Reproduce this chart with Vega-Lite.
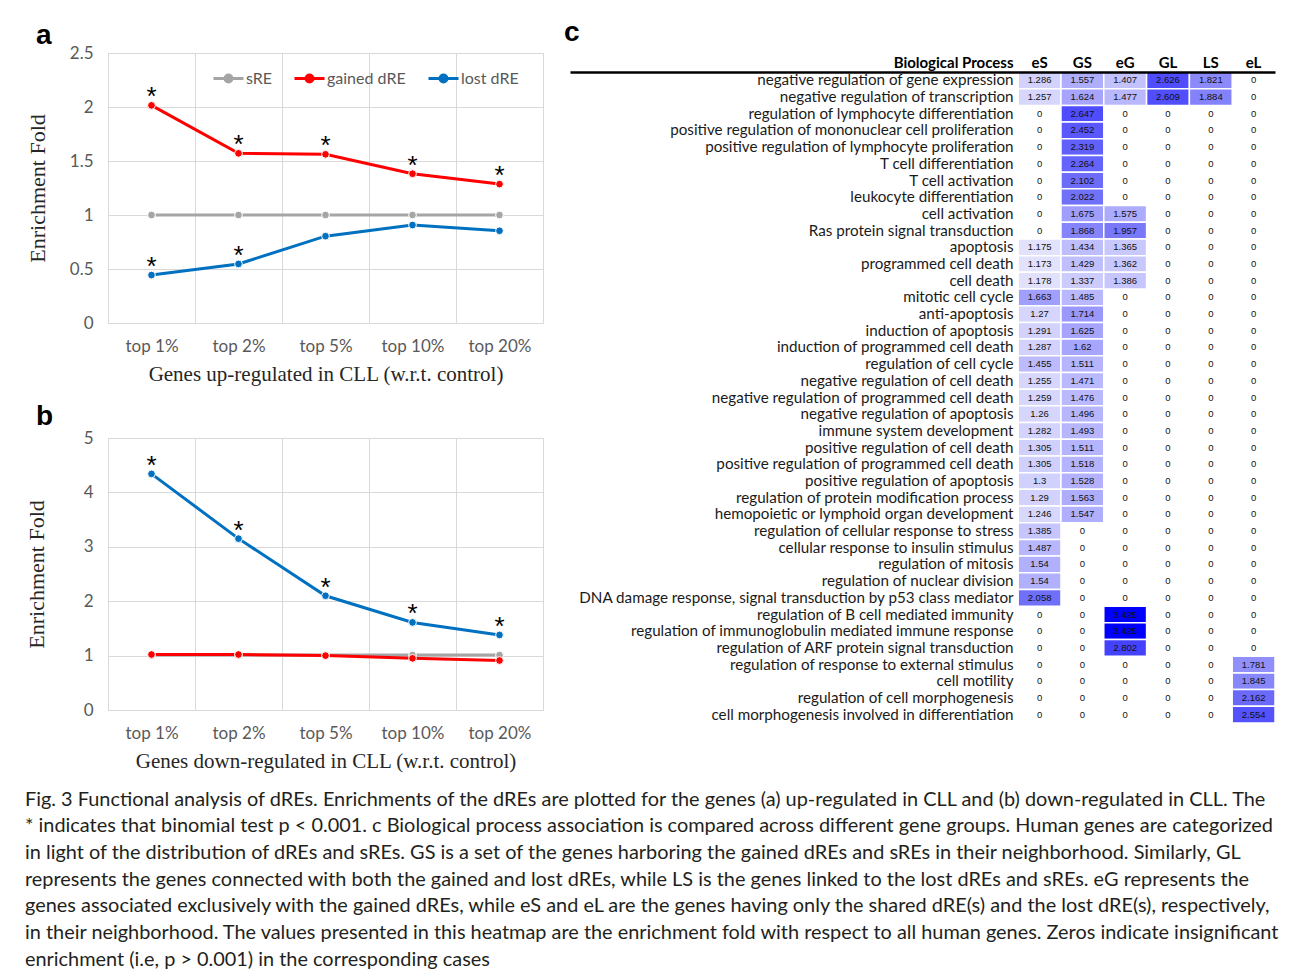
{
  "$schema": "https://vega.github.io/schema/vega-lite/v6.json",
  "background": "white",
  "padding": {"left": 24, "top": 19, "right": 5, "bottom": 5},
  "config": {
    "font": "Lato",
    "view": {"stroke": "#d9d9d9"}
  },
  "title": {
    "text": [
      "Fig. 3 Functional analysis of dREs. Enrichments of the dREs are plotted for the genes (a) up-regulated in CLL and (b) down-regulated in CLL. The",
      "* indicates that binomial test p < 0.001. c Biological process association is compared across different gene groups. Human genes are categorized",
      "in light of the distribution of dREs and sREs. GS is a set of the genes harboring the gained dREs and sREs in their neighborhood. Similarly, GL",
      "represents the genes connected with both the gained and lost dREs, while LS is the genes linked to the lost dREs and sREs. eG represents the",
      "genes associated exclusively with the gained dREs, while eS and eL are the genes having only the shared dRE(s) and the lost dRE(s), respectively,",
      "in their neighborhood. The values presented in this heatmap are the enrichment fold with respect to all human genes. Zeros indicate insignificant",
      "enrichment (i.e, p > 0.001) in the corresponding cases"
    ],
    "orient": "bottom",
    "anchor": "start",
    "frame": "group",
    "dx": -83,
    "offset": 18,
    "font": "Lato",
    "fontSize": 19.9,
    "fontWeight": "normal",
    "color": "#231f20",
    "lineHeight": 26.7
  },
  "datasets": {
    "trend": [
      {"panel": "a", "cat": "top 1%", "series": "sRE", "value": 1.0, "sig": false},
      {"panel": "a", "cat": "top 2%", "series": "sRE", "value": 1.0, "sig": false},
      {"panel": "a", "cat": "top 5%", "series": "sRE", "value": 1.0, "sig": false},
      {"panel": "a", "cat": "top 10%", "series": "sRE", "value": 1.0, "sig": false},
      {"panel": "a", "cat": "top 20%", "series": "sRE", "value": 1.0, "sig": false},
      {"panel": "a", "cat": "top 1%", "series": "gained dRE", "value": 2.015, "sig": true},
      {"panel": "a", "cat": "top 2%", "series": "gained dRE", "value": 1.571, "sig": true},
      {"panel": "a", "cat": "top 5%", "series": "gained dRE", "value": 1.562, "sig": true},
      {"panel": "a", "cat": "top 10%", "series": "gained dRE", "value": 1.382, "sig": true},
      {"panel": "a", "cat": "top 20%", "series": "gained dRE", "value": 1.286, "sig": true},
      {"panel": "a", "cat": "top 1%", "series": "lost dRE", "value": 0.444, "sig": true},
      {"panel": "a", "cat": "top 2%", "series": "lost dRE", "value": 0.547, "sig": true},
      {"panel": "a", "cat": "top 5%", "series": "lost dRE", "value": 0.804, "sig": false},
      {"panel": "a", "cat": "top 10%", "series": "lost dRE", "value": 0.907, "sig": false},
      {"panel": "a", "cat": "top 20%", "series": "lost dRE", "value": 0.854, "sig": false},
      {"panel": "b", "cat": "top 1%", "series": "sRE", "value": 1.01, "sig": false},
      {"panel": "b", "cat": "top 2%", "series": "sRE", "value": 1.01, "sig": false},
      {"panel": "b", "cat": "top 5%", "series": "sRE", "value": 1.01, "sig": false},
      {"panel": "b", "cat": "top 10%", "series": "sRE", "value": 1.01, "sig": false},
      {"panel": "b", "cat": "top 20%", "series": "sRE", "value": 1.01, "sig": false},
      {"panel": "b", "cat": "top 1%", "series": "gained dRE", "value": 1.02, "sig": false},
      {"panel": "b", "cat": "top 2%", "series": "gained dRE", "value": 1.02, "sig": false},
      {"panel": "b", "cat": "top 5%", "series": "gained dRE", "value": 1.0, "sig": false},
      {"panel": "b", "cat": "top 10%", "series": "gained dRE", "value": 0.95, "sig": false},
      {"panel": "b", "cat": "top 20%", "series": "gained dRE", "value": 0.91, "sig": false},
      {"panel": "b", "cat": "top 1%", "series": "lost dRE", "value": 4.34, "sig": true},
      {"panel": "b", "cat": "top 2%", "series": "lost dRE", "value": 3.15, "sig": true},
      {"panel": "b", "cat": "top 5%", "series": "lost dRE", "value": 2.1, "sig": true},
      {"panel": "b", "cat": "top 10%", "series": "lost dRE", "value": 1.61, "sig": true},
      {"panel": "b", "cat": "top 20%", "series": "lost dRE", "value": 1.38, "sig": true}
    ],
    "heat": [
      {"process": "negative regulation of gene expression", "eS": 1.286, "GS": 1.557, "eG": 1.407, "GL": 2.626, "LS": 1.821, "eL": 0},
      {"process": "negative regulation of transcription", "eS": 1.257, "GS": 1.624, "eG": 1.477, "GL": 2.609, "LS": 1.884, "eL": 0},
      {"process": "regulation of lymphocyte differentiation", "eS": 0, "GS": 2.647, "eG": 0, "GL": 0, "LS": 0, "eL": 0},
      {"process": "positive regulation of mononuclear cell proliferation", "eS": 0, "GS": 2.452, "eG": 0, "GL": 0, "LS": 0, "eL": 0},
      {"process": "positive regulation of lymphocyte proliferation", "eS": 0, "GS": 2.319, "eG": 0, "GL": 0, "LS": 0, "eL": 0},
      {"process": "T cell differentiation", "eS": 0, "GS": 2.264, "eG": 0, "GL": 0, "LS": 0, "eL": 0},
      {"process": "T cell activation", "eS": 0, "GS": 2.102, "eG": 0, "GL": 0, "LS": 0, "eL": 0},
      {"process": "leukocyte differentiation", "eS": 0, "GS": 2.022, "eG": 0, "GL": 0, "LS": 0, "eL": 0},
      {"process": "cell activation", "eS": 0, "GS": 1.675, "eG": 1.575, "GL": 0, "LS": 0, "eL": 0},
      {"process": "Ras protein signal transduction", "eS": 0, "GS": 1.868, "eG": 1.957, "GL": 0, "LS": 0, "eL": 0},
      {"process": "apoptosis", "eS": 1.175, "GS": 1.434, "eG": 1.365, "GL": 0, "LS": 0, "eL": 0},
      {"process": "programmed cell death", "eS": 1.173, "GS": 1.429, "eG": 1.362, "GL": 0, "LS": 0, "eL": 0},
      {"process": "cell death", "eS": 1.178, "GS": 1.337, "eG": 1.386, "GL": 0, "LS": 0, "eL": 0},
      {"process": "mitotic cell cycle", "eS": 1.663, "GS": 1.485, "eG": 0, "GL": 0, "LS": 0, "eL": 0},
      {"process": "anti-apoptosis", "eS": 1.27, "GS": 1.714, "eG": 0, "GL": 0, "LS": 0, "eL": 0},
      {"process": "induction of apoptosis", "eS": 1.291, "GS": 1.625, "eG": 0, "GL": 0, "LS": 0, "eL": 0},
      {"process": "induction of programmed cell death", "eS": 1.287, "GS": 1.62, "eG": 0, "GL": 0, "LS": 0, "eL": 0},
      {"process": "regulation of cell cycle", "eS": 1.455, "GS": 1.511, "eG": 0, "GL": 0, "LS": 0, "eL": 0},
      {"process": "negative regulation of cell death", "eS": 1.255, "GS": 1.471, "eG": 0, "GL": 0, "LS": 0, "eL": 0},
      {"process": "negative regulation of programmed cell death", "eS": 1.259, "GS": 1.476, "eG": 0, "GL": 0, "LS": 0, "eL": 0},
      {"process": "negative regulation of apoptosis", "eS": 1.26, "GS": 1.496, "eG": 0, "GL": 0, "LS": 0, "eL": 0},
      {"process": "immune system development", "eS": 1.282, "GS": 1.493, "eG": 0, "GL": 0, "LS": 0, "eL": 0},
      {"process": "positive regulation of cell death", "eS": 1.305, "GS": 1.511, "eG": 0, "GL": 0, "LS": 0, "eL": 0},
      {"process": "positive regulation of programmed cell death", "eS": 1.305, "GS": 1.518, "eG": 0, "GL": 0, "LS": 0, "eL": 0},
      {"process": "positive regulation of apoptosis", "eS": 1.3, "GS": 1.528, "eG": 0, "GL": 0, "LS": 0, "eL": 0},
      {"process": "regulation of protein modification process", "eS": 1.29, "GS": 1.563, "eG": 0, "GL": 0, "LS": 0, "eL": 0},
      {"process": "hemopoietic or lymphoid organ development", "eS": 1.246, "GS": 1.547, "eG": 0, "GL": 0, "LS": 0, "eL": 0},
      {"process": "regulation of cellular response to stress", "eS": 1.385, "GS": 0, "eG": 0, "GL": 0, "LS": 0, "eL": 0},
      {"process": "cellular response to insulin stimulus", "eS": 1.487, "GS": 0, "eG": 0, "GL": 0, "LS": 0, "eL": 0},
      {"process": "regulation of mitosis", "eS": 1.54, "GS": 0, "eG": 0, "GL": 0, "LS": 0, "eL": 0},
      {"process": "regulation of nuclear division", "eS": 1.54, "GS": 0, "eG": 0, "GL": 0, "LS": 0, "eL": 0},
      {"process": "DNA damage response, signal transduction by p53 class mediator", "eS": 2.058, "GS": 0, "eG": 0, "GL": 0, "LS": 0, "eL": 0},
      {"process": "regulation of B cell mediated immunity", "eS": 0, "GS": 0, "eG": 3.425, "GL": 0, "LS": 0, "eL": 0},
      {"process": "regulation of immunoglobulin mediated immune response", "eS": 0, "GS": 0, "eG": 3.425, "GL": 0, "LS": 0, "eL": 0},
      {"process": "regulation of ARF protein signal transduction", "eS": 0, "GS": 0, "eG": 2.802, "GL": 0, "LS": 0, "eL": 0},
      {"process": "regulation of response to external stimulus", "eS": 0, "GS": 0, "eG": 0, "GL": 0, "LS": 0, "eL": 1.781},
      {"process": "cell motility", "eS": 0, "GS": 0, "eG": 0, "GL": 0, "LS": 0, "eL": 1.845},
      {"process": "regulation of cell morphogenesis", "eS": 0, "GS": 0, "eG": 0, "GL": 0, "LS": 0, "eL": 2.162},
      {"process": "cell morphogenesis involved in differentiation", "eS": 0, "GS": 0, "eG": 0, "GL": 0, "LS": 0, "eL": 2.554}
    ]
  },
  "columns": 2,
  "align": "none",
  "spacing": 20,
  "resolve": {"scale": {"color": "independent"}, "legend": {"color": "independent"}},
  "concat": [
    {
      "spacing": 17,
      "resolve": {"scale": {"color": "independent"}, "legend": {"color": "independent"}},
      "vconcat": [
        {
          "title": {"text": "a", "anchor": "start", "frame": "group", "dx": -72, "offset": -6, "font": "Liberation Sans", "fontSize": 28, "fontWeight": "bold", "color": "black"},
          "width": 435,
          "height": 270,
          "data": {"name": "trend"},
          "transform": [{"filter": "datum.panel == 'a'"}],
          "encoding": {
            "x": {
              "field": "cat", "type": "ordinal",
              "sort": ["top 1%", "top 2%", "top 5%", "top 10%", "top 20%"],
              "scale": {"type": "band", "paddingInner": 0, "paddingOuter": 0},
              "axis": {"tickBand": "extent", "grid": true, "gridColor": "#d9d9d9", "ticks": false, "domain": false, "labelAngle": 0, "labelFont": "Lato", "labelFontSize": 17, "labelColor": "#595959", "labelPadding": 15, "title": "Genes up-regulated in CLL (w.r.t. control)", "titleFont": "Liberation Serif", "titleFontSize": 21, "titleFontWeight": "normal", "titleColor": "#262626", "titlePadding": 9}
            },
            "y": {
              "field": "value", "type": "quantitative",
              "scale": {"domain": [0, 2.5]},
              "axis": {"values": [0, 0.5, 1, 1.5, 2, 2.5], "format": "~g", "grid": true, "gridColor": "#d9d9d9", "ticks": false, "domain": false, "labelFont": "Lato", "labelFontSize": 17, "labelColor": "#595959", "labelPadding": 15, "title": "Enrichment Fold", "titleFont": "Liberation Serif", "titleFontSize": 22, "titleFontWeight": "normal", "titleColor": "#262626", "titlePadding": 20}
            },
            "color": {
              "field": "series", "type": "nominal",
              "scale": {"domain": ["sRE", "gained dRE", "lost dRE"], "range": ["#a5a5a5", "#ff0000", "#0070c0"]},
              "legend": {
                "orient": "none", "legendX": 104, "legendY": 9, "direction": "horizontal", "title": null,
                "labelFont": "Lato", "labelFontSize": 16, "labelColor": "#595959", "labelOffset": 1,
                "symbolType": "M-1,0H1M0.23,0A0.23,0.23,0,1,1,-0.23,0A0.23,0.23,0,1,1,0.23,0Z",
                "symbolSize": 900, "symbolStrokeWidth": 3, "columnPadding": 16,
                "encode": {"symbols": {"update": {"fill": {"scale": "color", "field": "value"}, "stroke": {"scale": "color", "field": "value"}, "opacity": {"value": 1}}}}
              }
            }
          },
          "layer": [
            {"mark": {"type": "line", "strokeWidth": 3}},
            {"mark": {"type": "point", "filled": true, "size": 60, "opacity": 1, "stroke": "white", "strokeWidth": 1}},
            {"transform": [{"filter": "datum.sig"}], "mark": {"type": "text", "text": "*", "fontSize": 26, "dy": -8, "baseline": "middle", "font": "Liberation Sans"}, "encoding": {"color": {"value": "black"}}}
          ]
        },
        {
          "title": {"text": "b", "anchor": "start", "frame": "group", "dx": -72, "offset": -2, "font": "Liberation Sans", "fontSize": 28, "fontWeight": "bold", "color": "black"},
          "width": 435,
          "height": 272,
          "data": {"name": "trend"},
          "transform": [{"filter": "datum.panel == 'b'"}],
          "encoding": {
            "x": {
              "field": "cat", "type": "ordinal",
              "sort": ["top 1%", "top 2%", "top 5%", "top 10%", "top 20%"],
              "scale": {"type": "band", "paddingInner": 0, "paddingOuter": 0},
              "axis": {"tickBand": "extent", "grid": true, "gridColor": "#d9d9d9", "ticks": false, "domain": false, "labelAngle": 0, "labelFont": "Lato", "labelFontSize": 17, "labelColor": "#595959", "labelPadding": 15, "title": "Genes down-regulated in CLL (w.r.t. control)", "titleFont": "Liberation Serif", "titleFontSize": 21, "titleFontWeight": "normal", "titleColor": "#262626", "titlePadding": 9}
            },
            "y": {
              "field": "value", "type": "quantitative",
              "scale": {"domain": [0, 5]},
              "axis": {"values": [0, 1, 2, 3, 4, 5], "format": "~g", "grid": true, "gridColor": "#d9d9d9", "ticks": false, "domain": false, "labelFont": "Lato", "labelFontSize": 17, "labelColor": "#595959", "labelPadding": 15, "title": "Enrichment Fold", "titleFont": "Liberation Serif", "titleFontSize": 22, "titleFontWeight": "normal", "titleColor": "#262626", "titlePadding": 35}
            },
            "color": {
              "field": "series", "type": "nominal",
              "scale": {"domain": ["sRE", "gained dRE", "lost dRE"], "range": ["#a5a5a5", "#ff0000", "#0070c0"]},
              "legend": null
            }
          },
          "layer": [
            {"mark": {"type": "line", "strokeWidth": 3}},
            {"mark": {"type": "point", "filled": true, "size": 60, "opacity": 1, "stroke": "white", "strokeWidth": 1}},
            {"transform": [{"filter": "datum.sig"}], "mark": {"type": "text", "text": "*", "fontSize": 26, "dy": -8, "baseline": "middle", "font": "Liberation Sans"}, "encoding": {"color": {"value": "black"}}}
          ]
        }
      ]
    },
    {
      "title": {"text": "c", "anchor": "start", "frame": "group", "dx": -6, "offset": 6, "font": "Liberation Sans", "fontSize": 28, "fontWeight": "bold", "color": "black"},
      "width": 705,
      "height": 670,
      "view": {"stroke": null},
      "data": {"name": "heat"},
      "transform": [{"fold": ["eS", "GS", "eG", "GL", "LS", "eL"], "as": ["group", "value"]}],
      "encoding": {
        "y": {"field": "process", "type": "nominal", "sort": null, "axis": null, "scale": {"paddingInner": 0, "paddingOuter": 0.57, "align": 1}},
        "x": {
          "field": "group", "type": "nominal",
          "scale": {"type": "band", "domain": ["p1", "p2", "p3", "p4", "p5", "p6", "p7", "p8", "p9", "p10", "eS", "GS", "eG", "GL", "LS", "eL"], "paddingInner": 0, "paddingOuter": 0.235, "align": 1},
          "axis": {"orient": "top", "offset": -19, "values": ["eS", "GS", "eG", "GL", "LS", "eL"], "title": "Biological Process", "titleX": 443, "titleY": -5, "titleAlign": "right", "titleBaseline": "alphabetic", "titleFont": "Lato", "titleFontSize": 15, "titleFontWeight": "bold", "titleColor": "black", "labelFont": "Lato", "labelFontSize": 15, "labelFontWeight": "bold", "labelColor": "black", "labelAngle": 0, "labelBaseline": "alphabetic", "labelPadding": 5, "ticks": false, "domain": true, "domainColor": "black", "domainWidth": 2.5, "grid": false}
        }
      },
      "layer": [
        {
          "transform": [{"filter": "datum.value > 0"}],
          "mark": {"type": "rect", "stroke": "white", "strokeWidth": 1.5},
          "encoding": {
            "color": {"field": "value", "type": "quantitative", "scale": {"domain": [1.1, 2.0, 3.425], "range": ["#ececfc", "#7272f8", "#0000ff"]}, "legend": null}
          }
        },
        {
          "mark": {"type": "text", "font": "Liberation Sans", "fontSize": 9.5, "color": "#111111"},
          "encoding": {"text": {"field": "value", "type": "nominal"}}
        },
        {
          "transform": [{"filter": "datum.group == 'eS'"}],
          "mark": {"type": "text", "align": "right", "dx": -26, "font": "Lato", "fontSize": 15.2, "color": "#1a1a1a"},
          "encoding": {"text": {"field": "process", "type": "nominal"}}
        }
      ]
    }
  ]
}
